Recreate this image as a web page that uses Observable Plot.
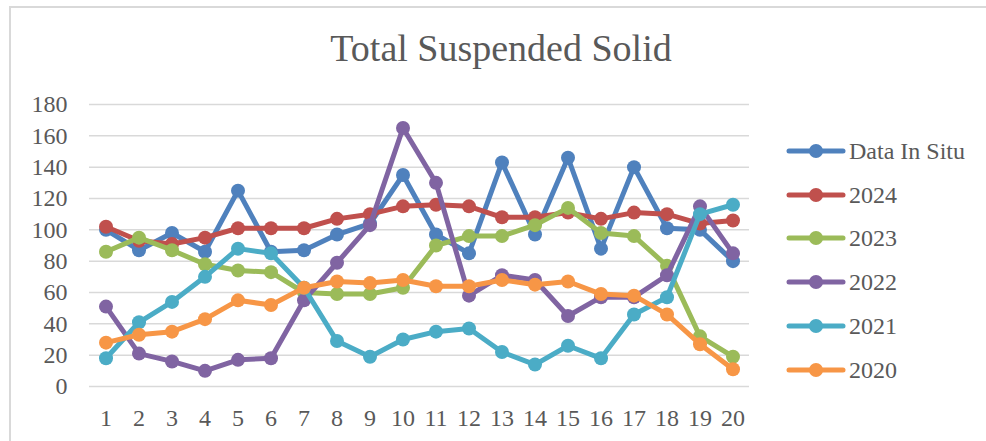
<!DOCTYPE html>
<html>
<head>
<meta charset="utf-8">
<script src="https://cdn.jsdelivr.net/npm/d3@7"></script>
<script src="https://cdn.jsdelivr.net/npm/@observablehq/plot@0.6"></script>
<style>
  html, body { margin: 0; padding: 0; background: #fff; }
  #wrap { position: relative; width: 986px; height: 441px; overflow: hidden; font-family: "Liberation Serif", serif; color: #595959; }
  #frame { position: absolute; left: 9px; top: 6px; width: 1000px; height: 460px; border-top: 2px solid #d9d9d9; border-left: 2px solid #d9d9d9; box-sizing: border-box; }
  #title { position: absolute; left: 0; width: 1002px; top: 26px; text-align: center; font-size: 38px; line-height: 44px; color: #595959; }
  #chart { position: absolute; left: 0; top: 0; }
  #legend { position: absolute; left: 786px; top: 129px; }
  .item { height: 43.8px; display: flex; align-items: center; font-size: 24px; line-height: 24px; }
  .item svg { margin-right: 3px; }
</style>
</head>
<body>
<div id="wrap">
  <div id="frame"></div>
  <div id="chart"></div>
  <div id="title">Total Suspended Solid</div>
  <div id="legend"></div>
</div>
<script>
const categories = [1,2,3,4,5,6,7,8,9,10,11,12,13,14,15,16,17,18,19,20];
const yTicks = [0,20,40,60,80,100,120,140,160,180];
const seriesNames = ["Data In Situ","2024","2023","2022","2021","2020"];
const seriesColors = ["#4F81BD","#C0504D","#9BBB59","#8064A2","#4BACC6","#F79646"];

const dataInSitu = [100,87,98,86,125,86,87,97,104,135,97,85,143,97,146,88,140,101,100,80];
const y2024 = [102,93,91,95,101,101,101,107,110,115,116,115,108,108,111,107,111,110,104,106];
const y2023 = [86,95,87,78,74,73,60,59,59,63,90,96,96,103,114,98,96,77,32,19];
const y2022 = [51,21,16,10,17,18,55,79,103,165,130,58,71,68,45,57,57,71,115,85];
const y2021 = [18,41,54,70,88,85,63,29,19,30,35,37,22,14,26,18,46,57,110,116];
const y2020 = [28,33,35,43,55,52,63,67,66,68,64,64,68,65,67,59,58,46,27,11];

const seriesValues = [dataInSitu, y2024, y2023, y2022, y2021, y2020];

const rows = seriesNames.flatMap((name, i) =>
  categories.map((c, j) => ({x: c, y: seriesValues[i][j], series: name})));

const marks = [
  Plot.ruleY(yTicks, {stroke: "#d9d9d9", strokeWidth: 1.5}),
  Plot.axisY({ticks: yTicks, tickSize: 0, tickPadding: 22, label: null, fontSize: 24, fill: "#595959"}),
  Plot.axisX({ticks: categories, tickSize: 0, tickPadding: 22, label: null, fontSize: 24, fill: "#595959", tickFormat: d => String(d)})
];
seriesNames.forEach((name) => {
  const d = rows.filter(r => r.series === name);
  marks.push(Plot.line(d, {x: "x", y: "y", stroke: "series", strokeWidth: 5, strokeLinejoin: "round", strokeLinecap: "round"}));
  marks.push(Plot.dot(d, {x: "x", y: "y", fill: "series", stroke: "series", r: 7, strokeWidth: 0}));
});

const chart = Plot.plot({
  width: 986,
  height: 441,
  marginLeft: 89,
  marginRight: 237,
  marginTop: 104,
  marginBottom: 55,
  style: {fontFamily: "Liberation Serif", fontSize: "24px", color: "#595959", background: "transparent"},
  x: {type: "linear", domain: [0.5, 20.5], axis: null},
  y: {domain: [0, 180], axis: null},
  color: {domain: seriesNames, range: seriesColors},
  marks
});
document.getElementById("chart").appendChild(chart);

const legend = document.getElementById("legend");
seriesNames.forEach((name, i) => {
  const item = document.createElement("div");
  item.className = "item";
  const c = seriesColors[i];
  item.innerHTML = `<svg width="60" height="16"><line x1="3" y1="8" x2="57" y2="8" stroke="${c}" stroke-width="5" stroke-linecap="round"/><circle cx="30" cy="8" r="7" fill="${c}"/></svg><span>${name}</span>`;
  legend.appendChild(item);
});
</script>
</body>
</html>
